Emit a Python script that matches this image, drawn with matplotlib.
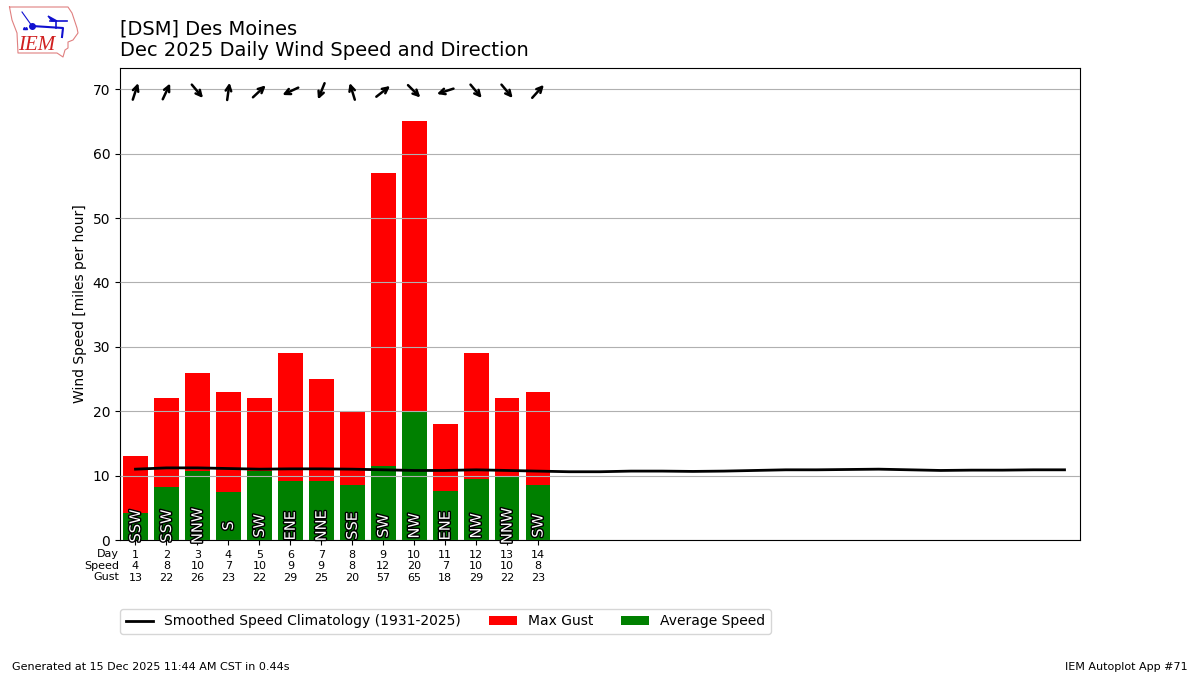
import numpy as np
import matplotlib
matplotlib.use("Agg")
import matplotlib.pyplot as plt
import matplotlib.patheffects as PathEffects
from matplotlib.text import OffsetFrom

# daily data
days = list(range(1, 15))
avg_speed = [4.2, 8.3, 10.7, 7.4, 10.7, 9.2, 9.1, 8.6, 11.55, 20, 7.6, 9.5, 9.8, 8.5]
max_gust = [13, 22, 26, 23, 22, 29, 25, 20, 57, 65, 18, 29, 22, 23]
speed_lbl = [4, 8, 10, 7, 10, 9, 9, 8, 12, 20, 7, 10, 10, 8]
drct_txt = ["SSW", "SSW", "NNW", "S", "SW", "ENE", "NNE", "SSE", "SW", "NW", "ENE", "NW", "NNW", "SW"]
drct_deg = [198, 205, 320, 188, 227, 65, 22, 163, 232, 315, 72, 320, 320, 222]

clim_days = list(range(1, 32))
clim_speed = [11.0, 11.2, 11.2, 11.1, 11.0, 11.05, 11.05, 11.0, 10.9, 10.8, 10.8, 10.9,
              10.8, 10.7, 10.6, 10.6, 10.7, 10.7, 10.65, 10.7, 10.8, 10.9, 10.9, 10.95,
              11.0, 10.9, 10.8, 10.85, 10.85, 10.9, 10.9]

# logo, figure pixels
iowa_x = [9.5, 68, 72, 77, 78, 73, 68, 68, 65, 63, 57, 18, 17, 12, 9.5]
iowa_y = [7, 7, 13, 28, 33, 40, 42, 48, 50, 57, 53, 53, 33, 20, 7]

fig = plt.figure(figsize=(12, 6.75), dpi=100)
ax = fig.add_axes([120 / 1200, 1 - 540 / 675, 960 / 1200, 472 / 675])

ax.bar(days, max_gust, color="r", label="Max Gust")
ax.bar(days, avg_speed, color="g", label="Average Speed")
ax.plot(clim_days, clim_speed, color="k", lw=2, zorder=5,
        label="Smoothed Speed Climatology (1931-2025)")

ax.set_axisbelow(False)
ax.grid(axis="y")
ax.set_xlim(0.5, 31.5)
ax.set_ylim(0, 73.3)
ax.set_ylabel("Wind Speed [miles per hour]")

ax.set_xticks(days)
ax.set_xticklabels(["%d\n%d\n%d" % (d, s, g) for d, s, g in zip(days, speed_lbl, max_gust)],
                   fontsize=8, linespacing=1.2)
ax.tick_params(axis="x", pad=3.5)
ax.text(-0.001, -0.0195, "Day\nSpeed\nGust", transform=ax.transAxes, ha="right", va="top",
        fontsize=8, linespacing=1.2)

# direction text in the bars, arrows along the top
for d, txt, deg in zip(days, drct_txt, drct_deg):
    t = ax.text(d, 2.2, txt, rotation=90, ha="center", va="center", color="white",
                fontsize=10.5, zorder=6)
    t.set_path_effects([PathEffects.withStroke(linewidth=2, foreground="k")])
    rad = np.radians(deg)
    dx = -np.sin(rad) * 6.3
    dy = -np.cos(rad) * 6.3
    anchor = OffsetFrom(ax.transData, (d, 70), "points")
    ax.annotate("", xy=(dx, dy - 1.5), xytext=(-dx, -dy - 1.5), xycoords=anchor, textcoords=anchor,
                arrowprops=dict(arrowstyle="->", lw=1.8, color="k", shrinkA=0, shrinkB=0,
                                mutation_scale=10), zorder=7)

fig.text(120 / 1200, 1 - 60 / 675, "[DSM] Des Moines\nDec 2025 Daily Wind Speed and Direction",
         fontsize=14, ha="left", va="bottom", linespacing=1.15)

ax.legend(loc="upper left", bbox_to_anchor=(0, -0.146), ncol=3, borderaxespad=0,
          fontsize=10)

fig.text(12 / 1200, 1 - 667 / 675, "Generated at 15 Dec 2025 11:44 AM CST in 0.44s",
         fontsize=8, ha="left", va="center")
fig.text(1188 / 1200, 1 - 667 / 675, "IEM Autoplot App #71", fontsize=8, ha="right",
         va="center")

# logo
logo = fig.add_axes([0, 0, 1, 1], zorder=-1)
logo.set_xlim(0, 1200)
logo.set_ylim(675, 0)
logo.axis("off")
logo.plot(iowa_x, iowa_y, color="#e08080", lw=0.8)
logo.plot([32, 63, 62], [26, 28, 37], color="#1010d0", lw=1.5)
logo.plot([50, 67], [21, 21], color="#1010d0", lw=1.2)
logo.plot([56, 56], [21, 28], color="#1010d0", lw=1.2)
logo.plot([22, 32], [12, 26], color="#1010d0", lw=0.8)
logo.plot([32], [26], "o", color="#1010d0", ms=4)
logo.fill([48, 57, 52], [16, 21, 21], color="#1010d0")
logo.plot([24, 26], [28, 28], "^", color="#1010d0", ms=1.5)
logo.text(37, 45, "IEM", color="#d02020", fontsize=15, family="Liberation Serif",
          style="italic", ha="center", va="center")

fig.savefig("out.png", dpi=100)
